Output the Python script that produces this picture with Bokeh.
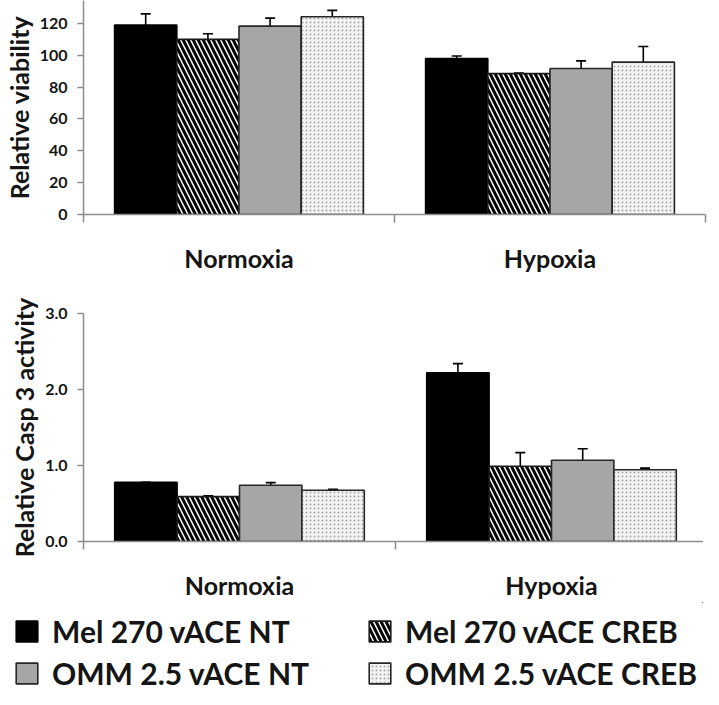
from bokeh.plotting import figure
from bokeh.models import (Range1d, FixedTicker, ColumnDataSource, Whisker, TeeHead,
                          Legend, LegendItem, NumeralTickFormatter)
from bokeh.layouts import column
from bokeh.embed import file_html
from bokeh.resources import INLINE

# ---------------- data ----------------
categories = ["Normoxia", "Hypoxia"]
series_names = ["Mel 270 vACE NT", "Mel 270 vACE CREB", "OMM 2.5 vACE NT", "OMM 2.5 vACE CREB"]

# Relative viability (Normoxia, Hypoxia)
viab_mel_nt = [119.0, 98.0]
viab_mel_creb = [110.0, 88.5]
viab_omm_nt = [118.3, 91.7]
viab_omm_creb = [124.2, 95.7]
viab_mel_nt_err = [7.0, 1.5]
viab_mel_creb_err = [3.5, 0.4]
viab_omm_nt_err = [5.0, 4.8]
viab_omm_creb_err = [4.0, 9.8]
viab_ticks = [0, 20, 40, 60, 80, 100, 120]

# Relative Casp 3 activity (Normoxia, Hypoxia)
casp_mel_nt = [0.78, 2.22]
casp_mel_creb = [0.59, 0.99]
casp_omm_nt = [0.74, 1.07]
casp_omm_creb = [0.675, 0.945]
casp_mel_nt_err = [0.0, 0.12]
casp_mel_creb_err = [0.01, 0.18]
casp_omm_nt_err = [0.035, 0.15]
casp_omm_creb_err = [0.012, 0.02]
casp_ticks = [0.0, 1.0, 2.0, 3.0]

FONT = "Lato"
AXIS_GRAY = "#8c8c8c"
TEXT = "#151515"

styles = [
    dict(fill_color="black", line_color="black"),
    dict(fill_color="white", line_color="#1a1a1a", hatch_pattern="left_diagonal_line",
         hatch_color="black", hatch_scale=10, hatch_weight=3),
    dict(fill_color="#a6a6a6", line_color="#262626"),
    dict(fill_color="#f3f3f3", line_color="#262626", hatch_pattern="dot",
         hatch_color="#a8a8a8", hatch_scale=4, hatch_weight=1.6),
]

BAR_W = 0.2


def bar_x(j):
    # category index i occupies [i, i+1]; 4 bars of width 0.2 centred in it
    return [i + 0.2 + BAR_W * j for i in range(len(categories))]


def make_chart(means, errs, ymax, ticks, fmt, ylabel, fw, fh, top, bottom):
    p = figure(frame_width=fw, frame_height=fh, min_border_left=77, min_border_right=703 - 77 - fw,
               min_border_top=top, min_border_bottom=bottom,
               x_range=Range1d(0, len(categories)), y_range=Range1d(0, ymax),
               toolbar_location=None, output_backend="svg")
    p.outline_line_color = None
    p.grid.visible = False
    p.background_fill_color = "white"

    for j, (m, e) in enumerate(zip(means, errs)):
        src = ColumnDataSource(dict(x=bar_x(j), top=m, upper=[a + b for a, b in zip(m, e)]))
        p.vbar(x="x", top="top", bottom=0, width=BAR_W, source=src, line_width=1.6, **styles[j])
        w = Whisker(source=src, base="x", upper="upper", lower="top", dimension="height",
                    line_color="black", line_width=1.6,
                    upper_head=TeeHead(size=10, line_color="black", line_width=1.6),
                    lower_head=None)
        p.add_layout(w)

    # y axis
    ya = p.yaxis[0]
    ya.ticker = FixedTicker(ticks=ticks, minor_ticks=[])
    ya.formatter = NumeralTickFormatter(format=fmt)
    ya.axis_line_color = AXIS_GRAY
    ya.axis_line_width = 1.5
    ya.major_tick_line_color = AXIS_GRAY
    ya.major_tick_line_width = 1.5
    ya.major_tick_out = 6
    ya.major_tick_in = 0
    ya.minor_tick_line_color = None
    ya.major_label_standoff = 10
    ya.major_label_text_font = FONT
    ya.major_label_text_font_style = "bold"
    ya.major_label_text_font_size = "16px"
    ya.major_label_text_color = TEXT
    ya.axis_label = ylabel
    ya.axis_label_text_font = FONT
    ya.axis_label_text_font_style = "bold"
    ya.axis_label_text_font_size = "25px"
    ya.axis_label_text_color = TEXT
    ya.axis_label_standoff = 3

    # x axis: labels at category centres, tick marks at category boundaries
    xa = p.xaxis[0]
    centres = [i + 0.5 for i in range(len(categories))]
    xa.ticker = FixedTicker(ticks=centres, minor_ticks=list(range(len(categories) + 1)))
    xa.major_label_overrides = {c: name for c, name in zip(centres, categories)}
    xa.axis_line_color = AXIS_GRAY
    xa.axis_line_width = 1.5
    xa.major_tick_line_color = None
    xa.major_tick_out = 0
    xa.major_tick_in = 0
    xa.minor_tick_line_color = AXIS_GRAY
    xa.minor_tick_line_width = 1.5
    xa.minor_tick_out = 8
    xa.minor_tick_in = 0
    xa.major_label_standoff = 20
    xa.major_label_text_font = FONT
    xa.major_label_text_font_style = "bold"
    xa.major_label_text_font_size = "25px"
    xa.major_label_text_color = TEXT
    return p


casp_means = [casp_mel_nt, casp_mel_creb, casp_omm_nt, casp_omm_creb]

p1 = make_chart([viab_mel_nt, viab_mel_creb, viab_omm_nt, viab_omm_creb],
                [viab_mel_nt_err, viab_mel_creb_err, viab_omm_nt_err, viab_omm_creb_err],
                134.4, viab_ticks, "0", "Relative viability", 622, 214, 0, 76)

p2 = make_chart(casp_means,
                [casp_mel_nt_err, casp_mel_creb_err, casp_omm_nt_err, casp_omm_creb_err],
                3.0, casp_ticks, "0.0", "Relative Casp 3 activity", 624, 228, 23, 59)

# legend panel (its swatch renderers lie outside the visible ranges)
p3 = figure(width=703, height=89, min_border=0,
            x_range=Range1d(-20, -19), y_range=Range1d(-20, -19),
            x_axis_type=None, y_axis_type=None,
            toolbar_location=None, output_backend="svg")
p3.frame_align = False
p3.grid.visible = False
p3.outline_line_color = None
renderers = []
for j, name in enumerate(series_names):
    r = p3.vbar(x=bar_x(j), top=casp_means[j], width=BAR_W, line_width=1.6, **styles[j])
    renderers.append(r)
# legend fills column-wise: column 1 = NT lines, column 2 = CREB lines
order = [0, 2, 1, 3]
items = [LegendItem(label=series_names[k], renderers=[renderers[k]]) for k in order]
legend = Legend(items=items, ncols=2, location=(13, 0), glyph_width=27, glyph_height=26,
                label_standoff=12, spacing=6, label_width=308, label_height=26,
                padding=0, margin=0, border_line_color=None, background_fill_alpha=0,
                label_text_font=FONT, label_text_font_style="bold",
                label_text_font_size="30px", label_text_color=TEXT)
p3.add_layout(legend, "center")

layout = column(p1, p2, p3)
open("out.html", "w").write(file_html(layout, INLINE))
